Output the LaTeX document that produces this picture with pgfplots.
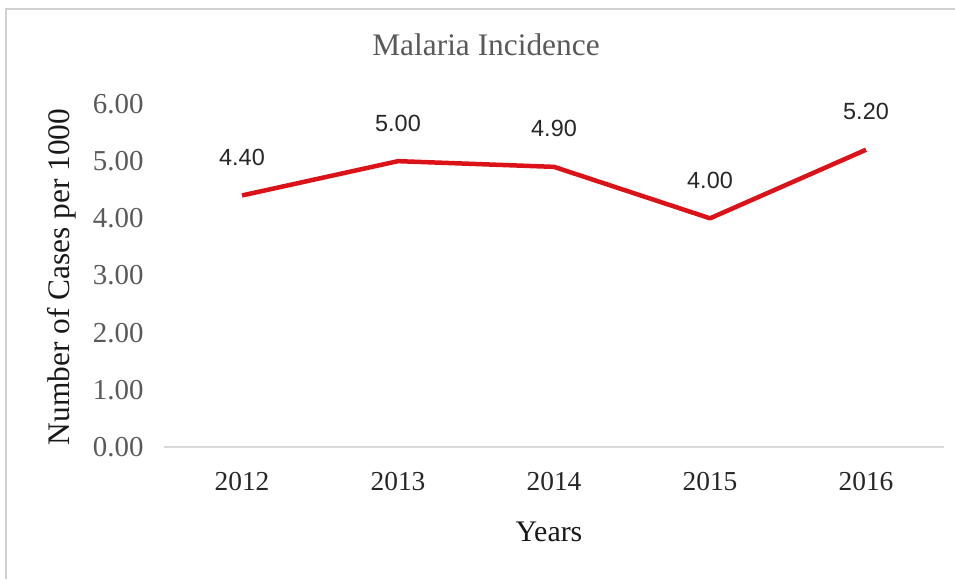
\documentclass[border=0pt]{standalone}
\usepackage{fontspec}
\setmainfont{Liberation Serif}
\newfontfamily\labelfont{Liberation Sans}
\usepackage{pgfplots}
\pgfplotsset{compat=1.18}
\definecolor{linered}{HTML}{DC1219}
\definecolor{tickgray}{HTML}{595959}
\definecolor{axisgray}{HTML}{D9D9D9}
\definecolor{framegray}{HTML}{D0D0D0}
\begin{document}
\begin{tikzpicture}[x=1bp,y=1bp]
\path[use as bounding box] (0,0) rectangle (955,579);
\draw[framegray, line width=1.2bp] (6,-2) -- (6,570) -- (957,570);
\begin{axis}[
  at={(164bp,132bp)}, anchor=south west,
  scale only axis, width=780bp, height=343bp,
  xmin=-0.5, xmax=4.5, ymin=0, ymax=6,
  axis x line*=bottom, axis y line*=left,
  x axis line style={axisgray, line width=1.5bp, -},
  y axis line style={draw=none, -},
  xtick=data, xticklabels={2012,2013,2014,2015,2016},
  ytick={0,1,2,3,4,5,6},
  major tick length=0pt,
  /pgf/number format/assume math mode=true,
  yticklabel={\pgfmathprintnumber[fixed,fixed zerofill,precision=2]{\tick}},
  yticklabel style={font=\fontsize{29}{31}\selectfont, text=tickgray, anchor=east, xshift=-17bp},
  xticklabel style={font=\fontsize{27.5}{30}\selectfont, text=black!85, anchor=center, yshift=-35bp},
  clip=false,
]
\addplot[linered, line width=4.5bp, line join=round,
  nodes near coords,
  nodes near coords style={font=\labelfont\fontsize{23.5}{26}\selectfont, text=black!85, anchor=center, yshift=38bp},
  point meta=explicit symbolic]
  coordinates {(0,4.4)[4.40] (1,5.0)[5.00] (2,4.9)[4.90] (3,4.0)[4.00] (4,5.2)[5.20]};
\end{axis}
\node[font=\fontsize{31.5}{34}\selectfont, text=tickgray] at (486,534) {Malaria Incidence};
\node[font=\fontsize{30}{33}\selectfont, text=black!90] at (549,47) {Years};
\node[font=\fontsize{31.5}{34}\selectfont, text=black!90, rotate=90] at (62,302) {Number of Cases per 1000};
\end{tikzpicture}
\end{document}
